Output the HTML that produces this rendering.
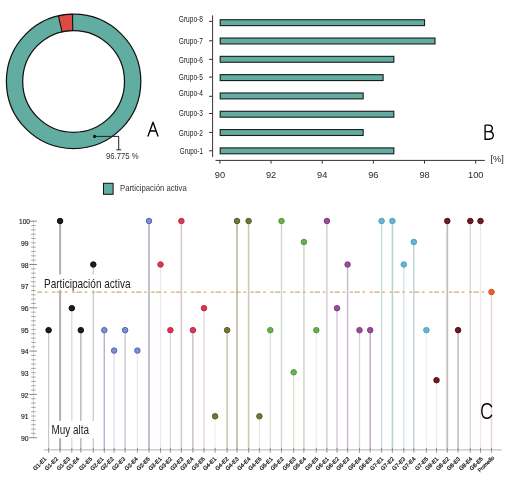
<!DOCTYPE html>
<html><head><meta charset="utf-8"><style>
html,body{margin:0;padding:0;background:#fff;}
svg{display:block;will-change:transform;}
text{font-family:"Liberation Sans", sans-serif;}
</style></head><body>
<svg width="524" height="481" viewBox="0 0 524 481">
<rect width="524" height="481" fill="#fff"/>
<circle cx="73.6" cy="81.4" r="59.05" fill="none" stroke="#62ada1" stroke-width="16.30"/>
<circle cx="73.6" cy="81.4" r="67.2" fill="none" stroke="#111" stroke-width="1.25"/>
<circle cx="73.6" cy="81.4" r="50.9" fill="none" stroke="#111" stroke-width="1.25"/>
<path d="M58.37,15.95 A67.2,67.2 0 0 1 72.50,14.21 L72.76,30.51 A50.9,50.9 0 0 0 62.06,31.82 Z" fill="#dc4a44" stroke="#111" stroke-width="1.1" stroke-linejoin="round"/>
<circle cx="94.6" cy="136.4" r="1.6" fill="#111"/>
<path d="M94.6,136.4 H118.7 V149.8 M116.3,149.8 H121.2" fill="none" stroke="#222" stroke-width="1"/>
<text x="106" y="158.7" font-size="9.5" fill="#333" textLength="32.6" lengthAdjust="spacingAndGlyphs">96.775 %</text>
<path d="M147.9,136.6 L153,122.2 L158.1,136.6 M150,131 H156" fill="none" stroke="#000" stroke-width="1.35" stroke-linejoin="round"/>
<rect x="103.5" y="183.3" width="9.6" height="11" fill="#62ada1" stroke="#111" stroke-width="1"/>
<text x="120" y="191.2" font-size="9.2" fill="#333" textLength="66.7" lengthAdjust="spacingAndGlyphs">Participación activa</text>
<line x1="212.6" y1="15.4" x2="212.6" y2="156.9" stroke="#333" stroke-width="1"/>
<line x1="209" y1="150.80" x2="212.6" y2="150.80" stroke="#333" stroke-width="1"/>
<rect x="220.2" y="147.90" width="173.64" height="5.9" fill="#62ada1" stroke="#1a1a1a" stroke-width="1.1"/>
<text x="179.80" y="153.8" font-size="8.4" fill="#222" textLength="23.1" lengthAdjust="spacingAndGlyphs">Grupo-1</text>
<line x1="209" y1="132.40" x2="212.6" y2="132.40" stroke="#333" stroke-width="1"/>
<rect x="220.2" y="129.59" width="142.95" height="5.9" fill="#62ada1" stroke="#1a1a1a" stroke-width="1.1"/>
<text x="178.80" y="135.7" font-size="8.4" fill="#222" textLength="24.1" lengthAdjust="spacingAndGlyphs">Grupo-2</text>
<line x1="209" y1="113.50" x2="212.6" y2="113.50" stroke="#333" stroke-width="1"/>
<rect x="220.2" y="111.28" width="173.64" height="5.9" fill="#62ada1" stroke="#1a1a1a" stroke-width="1.1"/>
<text x="178.80" y="115.9" font-size="8.4" fill="#222" textLength="24.1" lengthAdjust="spacingAndGlyphs">Grupo-3</text>
<line x1="209" y1="96.30" x2="212.6" y2="96.30" stroke="#333" stroke-width="1"/>
<rect x="220.2" y="92.97" width="142.95" height="5.9" fill="#62ada1" stroke="#1a1a1a" stroke-width="1.1"/>
<text x="178.80" y="96.1" font-size="8.4" fill="#222" textLength="24.1" lengthAdjust="spacingAndGlyphs">Grupo-4</text>
<line x1="209" y1="77.10" x2="212.6" y2="77.10" stroke="#333" stroke-width="1"/>
<rect x="220.2" y="74.66" width="162.90" height="5.9" fill="#62ada1" stroke="#1a1a1a" stroke-width="1.1"/>
<text x="178.80" y="80.2" font-size="8.4" fill="#222" textLength="24.1" lengthAdjust="spacingAndGlyphs">Grupo-5</text>
<line x1="209" y1="59.35" x2="212.6" y2="59.35" stroke="#333" stroke-width="1"/>
<rect x="220.2" y="56.35" width="173.64" height="5.9" fill="#62ada1" stroke="#1a1a1a" stroke-width="1.1"/>
<text x="178.80" y="62.5" font-size="8.4" fill="#222" textLength="24.1" lengthAdjust="spacingAndGlyphs">Grupo-6</text>
<line x1="209" y1="40.80" x2="212.6" y2="40.80" stroke="#333" stroke-width="1"/>
<rect x="220.2" y="38.04" width="214.83" height="5.9" fill="#62ada1" stroke="#1a1a1a" stroke-width="1.1"/>
<text x="178.80" y="43.7" font-size="8.4" fill="#222" textLength="24.1" lengthAdjust="spacingAndGlyphs">Grupo-7</text>
<line x1="209" y1="21.40" x2="212.6" y2="21.40" stroke="#333" stroke-width="1"/>
<rect x="220.2" y="19.73" width="204.34" height="5.9" fill="#62ada1" stroke="#1a1a1a" stroke-width="1.1"/>
<text x="178.80" y="22.2" font-size="8.4" fill="#222" textLength="24.1" lengthAdjust="spacingAndGlyphs">Grupo-8</text>
<line x1="215.5" y1="160.4" x2="484.8" y2="160.4" stroke="#333" stroke-width="1"/>
<line x1="219.90" y1="160.4" x2="219.90" y2="163.6" stroke="#333" stroke-width="1"/>
<text x="214.75" y="177.9" font-size="9.9" fill="#2a2a2a" textLength="10.3" lengthAdjust="spacingAndGlyphs">90</text>
<line x1="271.06" y1="160.4" x2="271.06" y2="163.6" stroke="#333" stroke-width="1"/>
<text x="265.91" y="177.9" font-size="9.9" fill="#2a2a2a" textLength="10.3" lengthAdjust="spacingAndGlyphs">92</text>
<line x1="322.22" y1="160.4" x2="322.22" y2="163.6" stroke="#333" stroke-width="1"/>
<text x="317.07" y="177.9" font-size="9.9" fill="#2a2a2a" textLength="10.3" lengthAdjust="spacingAndGlyphs">94</text>
<line x1="373.38" y1="160.4" x2="373.38" y2="163.6" stroke="#333" stroke-width="1"/>
<text x="368.23" y="177.9" font-size="9.9" fill="#2a2a2a" textLength="10.3" lengthAdjust="spacingAndGlyphs">96</text>
<line x1="424.54" y1="160.4" x2="424.54" y2="163.6" stroke="#333" stroke-width="1"/>
<text x="419.39" y="177.9" font-size="9.9" fill="#2a2a2a" textLength="10.3" lengthAdjust="spacingAndGlyphs">98</text>
<line x1="475.70" y1="160.4" x2="475.70" y2="163.6" stroke="#333" stroke-width="1"/>
<text x="468.00" y="177.9" font-size="9.9" fill="#2a2a2a" textLength="15.4" lengthAdjust="spacingAndGlyphs">100</text>
<text x="490.4" y="162.2" font-size="9" fill="#2a2a2a" textLength="13.4" lengthAdjust="spacingAndGlyphs">[%]</text>
<path d="M485.1,125.1 V139.2 H488.9 C491.7,139.2 493.3,137.8 493.3,135.3 C493.3,132.9 491.7,131.6 488.9,131.6 H485.1 M488.9,131.6 C491.1,131.6 492.3,130.4 492.3,128.3 C492.3,126.2 491.1,125.1 488.9,125.1 H485.1" fill="none" stroke="#000" stroke-width="1.35"/>
<line x1="33.5" y1="220.3" x2="33.5" y2="438.2" stroke="#d8d8d8" stroke-width="1"/>
<line x1="29.4" y1="437.70" x2="36.9" y2="437.70" stroke="#888" stroke-width="1"/>
<line x1="31.2" y1="433.37" x2="35.6" y2="433.37" stroke="#999" stroke-width="0.9"/>
<line x1="31.2" y1="429.04" x2="35.6" y2="429.04" stroke="#999" stroke-width="0.9"/>
<line x1="31.2" y1="424.71" x2="35.6" y2="424.71" stroke="#999" stroke-width="0.9"/>
<line x1="31.2" y1="420.38" x2="35.6" y2="420.38" stroke="#999" stroke-width="0.9"/>
<line x1="31.2" y1="416.05" x2="35.6" y2="416.05" stroke="#999" stroke-width="0.9"/>
<line x1="31.2" y1="411.72" x2="35.6" y2="411.72" stroke="#999" stroke-width="0.9"/>
<line x1="31.2" y1="407.39" x2="35.6" y2="407.39" stroke="#999" stroke-width="0.9"/>
<line x1="31.2" y1="403.06" x2="35.6" y2="403.06" stroke="#999" stroke-width="0.9"/>
<line x1="31.2" y1="398.73" x2="35.6" y2="398.73" stroke="#999" stroke-width="0.9"/>
<line x1="29.4" y1="394.40" x2="36.9" y2="394.40" stroke="#888" stroke-width="1"/>
<line x1="31.2" y1="390.07" x2="35.6" y2="390.07" stroke="#999" stroke-width="0.9"/>
<line x1="31.2" y1="385.74" x2="35.6" y2="385.74" stroke="#999" stroke-width="0.9"/>
<line x1="31.2" y1="381.41" x2="35.6" y2="381.41" stroke="#999" stroke-width="0.9"/>
<line x1="31.2" y1="377.08" x2="35.6" y2="377.08" stroke="#999" stroke-width="0.9"/>
<line x1="31.2" y1="372.75" x2="35.6" y2="372.75" stroke="#999" stroke-width="0.9"/>
<line x1="31.2" y1="368.42" x2="35.6" y2="368.42" stroke="#999" stroke-width="0.9"/>
<line x1="31.2" y1="364.09" x2="35.6" y2="364.09" stroke="#999" stroke-width="0.9"/>
<line x1="31.2" y1="359.76" x2="35.6" y2="359.76" stroke="#999" stroke-width="0.9"/>
<line x1="31.2" y1="355.43" x2="35.6" y2="355.43" stroke="#999" stroke-width="0.9"/>
<line x1="29.4" y1="351.10" x2="36.9" y2="351.10" stroke="#888" stroke-width="1"/>
<line x1="31.2" y1="346.77" x2="35.6" y2="346.77" stroke="#999" stroke-width="0.9"/>
<line x1="31.2" y1="342.44" x2="35.6" y2="342.44" stroke="#999" stroke-width="0.9"/>
<line x1="31.2" y1="338.11" x2="35.6" y2="338.11" stroke="#999" stroke-width="0.9"/>
<line x1="31.2" y1="333.78" x2="35.6" y2="333.78" stroke="#999" stroke-width="0.9"/>
<line x1="31.2" y1="329.45" x2="35.6" y2="329.45" stroke="#999" stroke-width="0.9"/>
<line x1="31.2" y1="325.12" x2="35.6" y2="325.12" stroke="#999" stroke-width="0.9"/>
<line x1="31.2" y1="320.79" x2="35.6" y2="320.79" stroke="#999" stroke-width="0.9"/>
<line x1="31.2" y1="316.46" x2="35.6" y2="316.46" stroke="#999" stroke-width="0.9"/>
<line x1="31.2" y1="312.13" x2="35.6" y2="312.13" stroke="#999" stroke-width="0.9"/>
<line x1="29.4" y1="307.80" x2="36.9" y2="307.80" stroke="#888" stroke-width="1"/>
<line x1="31.2" y1="303.47" x2="35.6" y2="303.47" stroke="#999" stroke-width="0.9"/>
<line x1="31.2" y1="299.14" x2="35.6" y2="299.14" stroke="#999" stroke-width="0.9"/>
<line x1="31.2" y1="294.81" x2="35.6" y2="294.81" stroke="#999" stroke-width="0.9"/>
<line x1="31.2" y1="290.48" x2="35.6" y2="290.48" stroke="#999" stroke-width="0.9"/>
<line x1="31.2" y1="286.15" x2="35.6" y2="286.15" stroke="#999" stroke-width="0.9"/>
<line x1="31.2" y1="281.82" x2="35.6" y2="281.82" stroke="#999" stroke-width="0.9"/>
<line x1="31.2" y1="277.49" x2="35.6" y2="277.49" stroke="#999" stroke-width="0.9"/>
<line x1="31.2" y1="273.16" x2="35.6" y2="273.16" stroke="#999" stroke-width="0.9"/>
<line x1="31.2" y1="268.83" x2="35.6" y2="268.83" stroke="#999" stroke-width="0.9"/>
<line x1="29.4" y1="264.50" x2="36.9" y2="264.50" stroke="#888" stroke-width="1"/>
<line x1="31.2" y1="260.17" x2="35.6" y2="260.17" stroke="#999" stroke-width="0.9"/>
<line x1="31.2" y1="255.84" x2="35.6" y2="255.84" stroke="#999" stroke-width="0.9"/>
<line x1="31.2" y1="251.51" x2="35.6" y2="251.51" stroke="#999" stroke-width="0.9"/>
<line x1="31.2" y1="247.18" x2="35.6" y2="247.18" stroke="#999" stroke-width="0.9"/>
<line x1="31.2" y1="242.85" x2="35.6" y2="242.85" stroke="#999" stroke-width="0.9"/>
<line x1="31.2" y1="238.52" x2="35.6" y2="238.52" stroke="#999" stroke-width="0.9"/>
<line x1="31.2" y1="234.19" x2="35.6" y2="234.19" stroke="#999" stroke-width="0.9"/>
<line x1="31.2" y1="229.86" x2="35.6" y2="229.86" stroke="#999" stroke-width="0.9"/>
<line x1="31.2" y1="225.53" x2="35.6" y2="225.53" stroke="#999" stroke-width="0.9"/>
<line x1="29.4" y1="221.20" x2="36.9" y2="221.20" stroke="#888" stroke-width="1"/>
<text x="21.00" y="440.90" font-size="7.4" fill="#222" stroke="#222" stroke-width="0.15" textLength="7.6" lengthAdjust="spacingAndGlyphs">90</text>
<text x="21.00" y="419.25" font-size="7.4" fill="#222" stroke="#222" stroke-width="0.15" textLength="7.6" lengthAdjust="spacingAndGlyphs">91</text>
<text x="21.00" y="397.60" font-size="7.4" fill="#222" stroke="#222" stroke-width="0.15" textLength="7.6" lengthAdjust="spacingAndGlyphs">92</text>
<text x="21.00" y="375.95" font-size="7.4" fill="#222" stroke="#222" stroke-width="0.15" textLength="7.6" lengthAdjust="spacingAndGlyphs">93</text>
<text x="21.00" y="354.30" font-size="7.4" fill="#222" stroke="#222" stroke-width="0.15" textLength="7.6" lengthAdjust="spacingAndGlyphs">94</text>
<text x="21.00" y="332.65" font-size="7.4" fill="#222" stroke="#222" stroke-width="0.15" textLength="7.6" lengthAdjust="spacingAndGlyphs">95</text>
<text x="21.00" y="311.00" font-size="7.4" fill="#222" stroke="#222" stroke-width="0.15" textLength="7.6" lengthAdjust="spacingAndGlyphs">96</text>
<text x="21.00" y="289.35" font-size="7.4" fill="#222" stroke="#222" stroke-width="0.15" textLength="7.6" lengthAdjust="spacingAndGlyphs">97</text>
<text x="21.00" y="267.70" font-size="7.4" fill="#222" stroke="#222" stroke-width="0.15" textLength="7.6" lengthAdjust="spacingAndGlyphs">98</text>
<text x="21.00" y="246.05" font-size="7.4" fill="#222" stroke="#222" stroke-width="0.15" textLength="7.6" lengthAdjust="spacingAndGlyphs">99</text>
<text x="19.10" y="224.40" font-size="7.4" fill="#222" stroke="#222" stroke-width="0.15" textLength="10.9" lengthAdjust="spacingAndGlyphs">100</text>
<line x1="48.6" y1="330.15" x2="48.6" y2="450.1" stroke="#c9c9c9" stroke-width="1.2"/>
<line x1="60.1" y1="221.00" x2="60.1" y2="450.1" stroke="#b0b0b0" stroke-width="2.0"/>
<line x1="71.8" y1="308.20" x2="71.8" y2="450.1" stroke="#d7d7d7" stroke-width="1.2"/>
<line x1="80.8" y1="330.15" x2="80.8" y2="450.1" stroke="#bebebe" stroke-width="1.6"/>
<line x1="93.3" y1="264.50" x2="93.3" y2="450.1" stroke="#cbcbcb" stroke-width="1.3"/>
<line x1="104.3" y1="330.15" x2="104.3" y2="450.1" stroke="#b1b7c8" stroke-width="1.4"/>
<line x1="114.1" y1="350.60" x2="114.1" y2="450.1" stroke="#dadde5" stroke-width="1.2"/>
<line x1="125.1" y1="330.15" x2="125.1" y2="450.1" stroke="#c0c4d1" stroke-width="1.3"/>
<line x1="137.4" y1="350.60" x2="137.4" y2="450.1" stroke="#e7e9ee" stroke-width="1.2"/>
<line x1="149.0" y1="221.00" x2="149.0" y2="450.1" stroke="#babfcd" stroke-width="1.9"/>
<line x1="160.5" y1="264.50" x2="160.5" y2="450.1" stroke="#efe6ea" stroke-width="1.2"/>
<line x1="170.4" y1="330.15" x2="170.4" y2="450.1" stroke="#e1d4da" stroke-width="1.3"/>
<line x1="181.4" y1="221.00" x2="181.4" y2="450.1" stroke="#d8c7cf" stroke-width="1.6"/>
<line x1="192.9" y1="330.15" x2="192.9" y2="450.1" stroke="#d1bec8" stroke-width="1.5"/>
<line x1="204.0" y1="308.20" x2="204.0" y2="450.1" stroke="#e3d5dc" stroke-width="1.3"/>
<line x1="215.1" y1="416.30" x2="215.1" y2="450.1" stroke="#f3f2e9" stroke-width="1.2"/>
<line x1="227.1" y1="330.15" x2="227.1" y2="450.1" stroke="#cacab5" stroke-width="1.6"/>
<line x1="237.0" y1="221.00" x2="237.0" y2="450.1" stroke="#c7c7b2" stroke-width="2.0"/>
<line x1="248.6" y1="221.00" x2="248.6" y2="450.1" stroke="#cacab9" stroke-width="1.6"/>
<line x1="259.4" y1="416.30" x2="259.4" y2="450.1" stroke="#ecebe1" stroke-width="1.2"/>
<line x1="270.3" y1="330.15" x2="270.3" y2="450.1" stroke="#d9e2d4" stroke-width="1.3"/>
<line x1="281.5" y1="221.00" x2="281.5" y2="450.1" stroke="#ccdac7" stroke-width="1.4"/>
<line x1="293.7" y1="372.30" x2="293.7" y2="450.1" stroke="#dbe5d7" stroke-width="1.3"/>
<line x1="303.9" y1="242.00" x2="303.9" y2="450.1" stroke="#ccdac7" stroke-width="1.5"/>
<line x1="316.3" y1="330.15" x2="316.3" y2="450.1" stroke="#eaefe7" stroke-width="1.2"/>
<line x1="326.9" y1="221.00" x2="326.9" y2="450.1" stroke="#d8ccdc" stroke-width="1.5"/>
<line x1="337.0" y1="308.20" x2="337.0" y2="450.1" stroke="#d5c7da" stroke-width="1.4"/>
<line x1="347.6" y1="264.50" x2="347.6" y2="450.1" stroke="#cbbdd1" stroke-width="1.5"/>
<line x1="359.5" y1="330.15" x2="359.5" y2="450.1" stroke="#dbd0e0" stroke-width="1.3"/>
<line x1="370.2" y1="330.15" x2="370.2" y2="450.1" stroke="#c0b2c9" stroke-width="1.6"/>
<line x1="381.6" y1="221.00" x2="381.6" y2="450.1" stroke="#cadde2" stroke-width="1.5"/>
<line x1="392.4" y1="221.00" x2="392.4" y2="450.1" stroke="#bad1d7" stroke-width="1.6"/>
<line x1="403.8" y1="264.50" x2="403.8" y2="450.1" stroke="#d5e4e8" stroke-width="1.3"/>
<line x1="413.8" y1="242.00" x2="413.8" y2="450.1" stroke="#c5d8dd" stroke-width="1.5"/>
<line x1="426.4" y1="330.15" x2="426.4" y2="450.1" stroke="#e9f0f2" stroke-width="1.2"/>
<line x1="436.5" y1="380.20" x2="436.5" y2="450.1" stroke="#efeaea" stroke-width="1.2"/>
<line x1="447.3" y1="221.00" x2="447.3" y2="450.1" stroke="#c7bcbc" stroke-width="1.8"/>
<line x1="458.1" y1="330.15" x2="458.1" y2="450.1" stroke="#cabebe" stroke-width="1.6"/>
<line x1="470.3" y1="221.00" x2="470.3" y2="450.1" stroke="#ded7d7" stroke-width="1.4"/>
<line x1="480.5" y1="221.00" x2="480.5" y2="450.1" stroke="#ece8e8" stroke-width="1.2"/>
<line x1="491.5" y1="292.00" x2="491.5" y2="450.1" stroke="#e6d6cf" stroke-width="1.5"/>
<line x1="43.7" y1="449.9" x2="501.8" y2="449.9" stroke="#c2c2c2" stroke-width="1.4"/>
<line x1="48.6" y1="447.8" x2="48.6" y2="452.6" stroke="#8e8e8e" stroke-width="1"/>
<line x1="60.1" y1="447.8" x2="60.1" y2="452.6" stroke="#8e8e8e" stroke-width="1"/>
<line x1="71.8" y1="447.8" x2="71.8" y2="452.6" stroke="#8e8e8e" stroke-width="1"/>
<line x1="80.8" y1="447.8" x2="80.8" y2="452.6" stroke="#8e8e8e" stroke-width="1"/>
<line x1="93.3" y1="447.8" x2="93.3" y2="452.6" stroke="#8e8e8e" stroke-width="1"/>
<line x1="104.3" y1="447.8" x2="104.3" y2="452.6" stroke="#8e8e8e" stroke-width="1"/>
<line x1="114.1" y1="447.8" x2="114.1" y2="452.6" stroke="#8e8e8e" stroke-width="1"/>
<line x1="125.1" y1="447.8" x2="125.1" y2="452.6" stroke="#8e8e8e" stroke-width="1"/>
<line x1="137.4" y1="447.8" x2="137.4" y2="452.6" stroke="#8e8e8e" stroke-width="1"/>
<line x1="149.0" y1="447.8" x2="149.0" y2="452.6" stroke="#8e8e8e" stroke-width="1"/>
<line x1="160.5" y1="447.8" x2="160.5" y2="452.6" stroke="#8e8e8e" stroke-width="1"/>
<line x1="170.4" y1="447.8" x2="170.4" y2="452.6" stroke="#8e8e8e" stroke-width="1"/>
<line x1="181.4" y1="447.8" x2="181.4" y2="452.6" stroke="#8e8e8e" stroke-width="1"/>
<line x1="192.9" y1="447.8" x2="192.9" y2="452.6" stroke="#8e8e8e" stroke-width="1"/>
<line x1="204.0" y1="447.8" x2="204.0" y2="452.6" stroke="#8e8e8e" stroke-width="1"/>
<line x1="215.1" y1="447.8" x2="215.1" y2="452.6" stroke="#8e8e8e" stroke-width="1"/>
<line x1="227.1" y1="447.8" x2="227.1" y2="452.6" stroke="#8e8e8e" stroke-width="1"/>
<line x1="237.0" y1="447.8" x2="237.0" y2="452.6" stroke="#8e8e8e" stroke-width="1"/>
<line x1="248.6" y1="447.8" x2="248.6" y2="452.6" stroke="#8e8e8e" stroke-width="1"/>
<line x1="259.4" y1="447.8" x2="259.4" y2="452.6" stroke="#8e8e8e" stroke-width="1"/>
<line x1="270.3" y1="447.8" x2="270.3" y2="452.6" stroke="#8e8e8e" stroke-width="1"/>
<line x1="281.5" y1="447.8" x2="281.5" y2="452.6" stroke="#8e8e8e" stroke-width="1"/>
<line x1="293.7" y1="447.8" x2="293.7" y2="452.6" stroke="#8e8e8e" stroke-width="1"/>
<line x1="303.9" y1="447.8" x2="303.9" y2="452.6" stroke="#8e8e8e" stroke-width="1"/>
<line x1="316.3" y1="447.8" x2="316.3" y2="452.6" stroke="#8e8e8e" stroke-width="1"/>
<line x1="326.9" y1="447.8" x2="326.9" y2="452.6" stroke="#8e8e8e" stroke-width="1"/>
<line x1="337.0" y1="447.8" x2="337.0" y2="452.6" stroke="#8e8e8e" stroke-width="1"/>
<line x1="347.6" y1="447.8" x2="347.6" y2="452.6" stroke="#8e8e8e" stroke-width="1"/>
<line x1="359.5" y1="447.8" x2="359.5" y2="452.6" stroke="#8e8e8e" stroke-width="1"/>
<line x1="370.2" y1="447.8" x2="370.2" y2="452.6" stroke="#8e8e8e" stroke-width="1"/>
<line x1="381.6" y1="447.8" x2="381.6" y2="452.6" stroke="#8e8e8e" stroke-width="1"/>
<line x1="392.4" y1="447.8" x2="392.4" y2="452.6" stroke="#8e8e8e" stroke-width="1"/>
<line x1="403.8" y1="447.8" x2="403.8" y2="452.6" stroke="#8e8e8e" stroke-width="1"/>
<line x1="413.8" y1="447.8" x2="413.8" y2="452.6" stroke="#8e8e8e" stroke-width="1"/>
<line x1="426.4" y1="447.8" x2="426.4" y2="452.6" stroke="#8e8e8e" stroke-width="1"/>
<line x1="436.5" y1="447.8" x2="436.5" y2="452.6" stroke="#8e8e8e" stroke-width="1"/>
<line x1="447.3" y1="447.8" x2="447.3" y2="452.6" stroke="#8e8e8e" stroke-width="1"/>
<line x1="458.1" y1="447.8" x2="458.1" y2="452.6" stroke="#8e8e8e" stroke-width="1"/>
<line x1="470.3" y1="447.8" x2="470.3" y2="452.6" stroke="#8e8e8e" stroke-width="1"/>
<line x1="480.5" y1="447.8" x2="480.5" y2="452.6" stroke="#8e8e8e" stroke-width="1"/>
<line x1="491.5" y1="447.8" x2="491.5" y2="452.6" stroke="#8e8e8e" stroke-width="1"/>
<line x1="37.2" y1="292.1" x2="488" y2="292.1" stroke="#cdb073" stroke-width="1.3" stroke-dasharray="3.3 1.4 5.3 2.7 2.7 4.45" stroke-dashoffset="5.05"/>
<rect x="38.5" y="274.5" width="94" height="15.6" fill="#fff"/>
<text x="44" y="287.9" font-size="11.9" fill="#222" textLength="86.5" lengthAdjust="spacingAndGlyphs">Participación activa</text>
<rect x="50.2" y="420.9" width="46" height="17.2" fill="#fff"/>
<text x="51.5" y="433.6" font-size="12" fill="#222" textLength="37.5" lengthAdjust="spacingAndGlyphs">Muy alta</text>
<circle cx="48.6" cy="330.15" r="2.75" fill="#1c1c26" stroke="#0c0c14" stroke-width="1"/>
<circle cx="60.1" cy="221.00" r="2.75" fill="#1c1c26" stroke="#0c0c14" stroke-width="1"/>
<circle cx="71.8" cy="308.20" r="2.75" fill="#1c1c26" stroke="#0c0c14" stroke-width="1"/>
<circle cx="80.8" cy="330.15" r="2.75" fill="#1c1c26" stroke="#0c0c14" stroke-width="1"/>
<circle cx="93.3" cy="264.50" r="2.75" fill="#1c1c26" stroke="#0c0c14" stroke-width="1"/>
<circle cx="104.3" cy="330.15" r="2.75" fill="#7f90cf" stroke="#5262b0" stroke-width="1"/>
<circle cx="114.1" cy="350.60" r="2.75" fill="#7f90cf" stroke="#5262b0" stroke-width="1"/>
<circle cx="125.1" cy="330.15" r="2.75" fill="#7f90cf" stroke="#5262b0" stroke-width="1"/>
<circle cx="137.4" cy="350.60" r="2.75" fill="#7f90cf" stroke="#5262b0" stroke-width="1"/>
<circle cx="149.0" cy="221.00" r="2.75" fill="#7f90cf" stroke="#5262b0" stroke-width="1"/>
<circle cx="160.5" cy="264.50" r="2.75" fill="#dc3550" stroke="#c02848" stroke-width="1"/>
<circle cx="170.4" cy="330.15" r="2.75" fill="#dc3550" stroke="#c02848" stroke-width="1"/>
<circle cx="181.4" cy="221.00" r="2.75" fill="#dc3550" stroke="#c02848" stroke-width="1"/>
<circle cx="192.9" cy="330.15" r="2.75" fill="#dc3550" stroke="#c02848" stroke-width="1"/>
<circle cx="204.0" cy="308.20" r="2.75" fill="#dc3550" stroke="#c02848" stroke-width="1"/>
<circle cx="215.1" cy="416.30" r="2.75" fill="#767632" stroke="#5a5a20" stroke-width="1"/>
<circle cx="227.1" cy="330.15" r="2.75" fill="#767632" stroke="#5a5a20" stroke-width="1"/>
<circle cx="237.0" cy="221.00" r="2.75" fill="#767632" stroke="#5a5a20" stroke-width="1"/>
<circle cx="248.6" cy="221.00" r="2.75" fill="#767632" stroke="#5a5a20" stroke-width="1"/>
<circle cx="259.4" cy="416.30" r="2.75" fill="#767632" stroke="#5a5a20" stroke-width="1"/>
<circle cx="270.3" cy="330.15" r="2.75" fill="#68b050" stroke="#4e9a3c" stroke-width="1"/>
<circle cx="281.5" cy="221.00" r="2.75" fill="#68b050" stroke="#4e9a3c" stroke-width="1"/>
<circle cx="293.7" cy="372.30" r="2.75" fill="#68b050" stroke="#4e9a3c" stroke-width="1"/>
<circle cx="303.9" cy="242.00" r="2.75" fill="#68b050" stroke="#4e9a3c" stroke-width="1"/>
<circle cx="316.3" cy="330.15" r="2.75" fill="#68b050" stroke="#4e9a3c" stroke-width="1"/>
<circle cx="326.9" cy="221.00" r="2.75" fill="#9c4c9c" stroke="#803880" stroke-width="1"/>
<circle cx="337.0" cy="308.20" r="2.75" fill="#9c4c9c" stroke="#803880" stroke-width="1"/>
<circle cx="347.6" cy="264.50" r="2.75" fill="#9c4c9c" stroke="#803880" stroke-width="1"/>
<circle cx="359.5" cy="330.15" r="2.75" fill="#9c4c9c" stroke="#803880" stroke-width="1"/>
<circle cx="370.2" cy="330.15" r="2.75" fill="#9c4c9c" stroke="#803880" stroke-width="1"/>
<circle cx="381.6" cy="221.00" r="2.75" fill="#62b8d0" stroke="#4aa0c0" stroke-width="1"/>
<circle cx="392.4" cy="221.00" r="2.75" fill="#62b8d0" stroke="#4aa0c0" stroke-width="1"/>
<circle cx="403.8" cy="264.50" r="2.75" fill="#62b8d0" stroke="#4aa0c0" stroke-width="1"/>
<circle cx="413.8" cy="242.00" r="2.75" fill="#62b8d0" stroke="#4aa0c0" stroke-width="1"/>
<circle cx="426.4" cy="330.15" r="2.75" fill="#62b8d0" stroke="#4aa0c0" stroke-width="1"/>
<circle cx="436.5" cy="380.20" r="2.75" fill="#6e1a20" stroke="#501015" stroke-width="1"/>
<circle cx="447.3" cy="221.00" r="2.75" fill="#6e1a20" stroke="#501015" stroke-width="1"/>
<circle cx="458.1" cy="330.15" r="2.75" fill="#6e1a20" stroke="#501015" stroke-width="1"/>
<circle cx="470.3" cy="221.00" r="2.75" fill="#6e1a20" stroke="#501015" stroke-width="1"/>
<circle cx="480.5" cy="221.00" r="2.75" fill="#6e1a20" stroke="#501015" stroke-width="1"/>
<circle cx="491.5" cy="292.00" r="2.75" fill="#e8602a" stroke="#d04820" stroke-width="1"/>
<path d="M491.8,407.2 C490.9,404.9 489.2,403.8 486.9,403.8 C483.6,403.8 481.8,406.6 481.8,411 C481.8,415.5 483.6,418.2 486.9,418.2 C489.3,418.2 490.9,417 491.8,414.7" fill="none" stroke="#000" stroke-width="1.4"/>
<text transform="translate(46.80,459.3) rotate(-45)" font-size="5.6" fill="#111" stroke="#111" stroke-width="0.22" text-anchor="end">G1-E1</text>
<text transform="translate(58.40,459.3) rotate(-45)" font-size="5.6" fill="#111" stroke="#111" stroke-width="0.22" text-anchor="end">G1-E2</text>
<text transform="translate(70.46,459.3) rotate(-45)" font-size="5.6" fill="#111" stroke="#111" stroke-width="0.22" text-anchor="end">G1-E3</text>
<text transform="translate(79.82,459.3) rotate(-45)" font-size="5.6" fill="#111" stroke="#111" stroke-width="0.22" text-anchor="end">G1-E4</text>
<text transform="translate(92.68,459.3) rotate(-45)" font-size="5.6" fill="#111" stroke="#111" stroke-width="0.22" text-anchor="end">G1-E5</text>
<text transform="translate(104.04,459.3) rotate(-45)" font-size="5.6" fill="#111" stroke="#111" stroke-width="0.22" text-anchor="end">G2-E1</text>
<text transform="translate(114.20,459.3) rotate(-45)" font-size="5.6" fill="#111" stroke="#111" stroke-width="0.22" text-anchor="end">G2-E2</text>
<text transform="translate(125.60,459.3) rotate(-45)" font-size="5.6" fill="#111" stroke="#111" stroke-width="0.22" text-anchor="end">G2-E3</text>
<text transform="translate(138.30,459.3) rotate(-45)" font-size="5.6" fill="#111" stroke="#111" stroke-width="0.22" text-anchor="end">G2-E4</text>
<text transform="translate(150.30,459.3) rotate(-45)" font-size="5.6" fill="#111" stroke="#111" stroke-width="0.22" text-anchor="end">G2-E5</text>
<text transform="translate(162.20,459.3) rotate(-45)" font-size="5.6" fill="#111" stroke="#111" stroke-width="0.22" text-anchor="end">G3-E1</text>
<text transform="translate(172.50,459.3) rotate(-45)" font-size="5.6" fill="#111" stroke="#111" stroke-width="0.22" text-anchor="end">G3-E2</text>
<text transform="translate(183.90,459.3) rotate(-45)" font-size="5.6" fill="#111" stroke="#111" stroke-width="0.22" text-anchor="end">G3-E3</text>
<text transform="translate(193.90,459.3) rotate(-45)" font-size="5.6" fill="#111" stroke="#111" stroke-width="0.22" text-anchor="end">G3-E4</text>
<text transform="translate(205.27,459.3) rotate(-45)" font-size="5.6" fill="#111" stroke="#111" stroke-width="0.22" text-anchor="end">G3-E5</text>
<text transform="translate(216.64,459.3) rotate(-45)" font-size="5.6" fill="#111" stroke="#111" stroke-width="0.22" text-anchor="end">G4-E1</text>
<text transform="translate(228.91,459.3) rotate(-45)" font-size="5.6" fill="#111" stroke="#111" stroke-width="0.22" text-anchor="end">G4-E2</text>
<text transform="translate(239.09,459.3) rotate(-45)" font-size="5.6" fill="#111" stroke="#111" stroke-width="0.22" text-anchor="end">G4-E3</text>
<text transform="translate(250.96,459.3) rotate(-45)" font-size="5.6" fill="#111" stroke="#111" stroke-width="0.22" text-anchor="end">G4-E4</text>
<text transform="translate(262.03,459.3) rotate(-45)" font-size="5.6" fill="#111" stroke="#111" stroke-width="0.22" text-anchor="end">G4-E5</text>
<text transform="translate(273.20,459.3) rotate(-45)" font-size="5.6" fill="#111" stroke="#111" stroke-width="0.22" text-anchor="end">G5-E1</text>
<text transform="translate(284.10,459.3) rotate(-45)" font-size="5.6" fill="#111" stroke="#111" stroke-width="0.22" text-anchor="end">G5-E2</text>
<text transform="translate(296.25,459.3) rotate(-45)" font-size="5.6" fill="#111" stroke="#111" stroke-width="0.22" text-anchor="end">G5-E3</text>
<text transform="translate(306.40,459.3) rotate(-45)" font-size="5.6" fill="#111" stroke="#111" stroke-width="0.22" text-anchor="end">G5-E4</text>
<text transform="translate(318.75,459.3) rotate(-45)" font-size="5.6" fill="#111" stroke="#111" stroke-width="0.22" text-anchor="end">G5-E5</text>
<text transform="translate(329.30,459.3) rotate(-45)" font-size="5.6" fill="#111" stroke="#111" stroke-width="0.22" text-anchor="end">G6-E1</text>
<text transform="translate(339.35,459.3) rotate(-45)" font-size="5.6" fill="#111" stroke="#111" stroke-width="0.22" text-anchor="end">G6-E2</text>
<text transform="translate(349.90,459.3) rotate(-45)" font-size="5.6" fill="#111" stroke="#111" stroke-width="0.22" text-anchor="end">G6-E3</text>
<text transform="translate(361.80,459.3) rotate(-45)" font-size="5.6" fill="#111" stroke="#111" stroke-width="0.22" text-anchor="end">G6-E4</text>
<text transform="translate(372.43,459.3) rotate(-45)" font-size="5.6" fill="#111" stroke="#111" stroke-width="0.22" text-anchor="end">G6-E5</text>
<text transform="translate(383.75,459.3) rotate(-45)" font-size="5.6" fill="#111" stroke="#111" stroke-width="0.22" text-anchor="end">G7-E1</text>
<text transform="translate(394.47,459.3) rotate(-45)" font-size="5.6" fill="#111" stroke="#111" stroke-width="0.22" text-anchor="end">G7-E2</text>
<text transform="translate(405.80,459.3) rotate(-45)" font-size="5.6" fill="#111" stroke="#111" stroke-width="0.22" text-anchor="end">G7-E3</text>
<text transform="translate(415.88,459.3) rotate(-45)" font-size="5.6" fill="#111" stroke="#111" stroke-width="0.22" text-anchor="end">G7-E4</text>
<text transform="translate(428.57,459.3) rotate(-45)" font-size="5.6" fill="#111" stroke="#111" stroke-width="0.22" text-anchor="end">G7-E5</text>
<text transform="translate(438.75,459.3) rotate(-45)" font-size="5.6" fill="#111" stroke="#111" stroke-width="0.22" text-anchor="end">G8-E1</text>
<text transform="translate(449.63,459.3) rotate(-45)" font-size="5.6" fill="#111" stroke="#111" stroke-width="0.22" text-anchor="end">G8-E2</text>
<text transform="translate(460.52,459.3) rotate(-45)" font-size="5.6" fill="#111" stroke="#111" stroke-width="0.22" text-anchor="end">G8-E3</text>
<text transform="translate(472.80,459.3) rotate(-45)" font-size="5.6" fill="#111" stroke="#111" stroke-width="0.22" text-anchor="end">G8-E4</text>
<text transform="translate(483.30,459.3) rotate(-45)" font-size="5.6" fill="#111" stroke="#111" stroke-width="0.22" text-anchor="end">G8-E5</text>
<text transform="translate(494.60,458.0) rotate(-45)" font-size="5.4" fill="#111" stroke="#111" stroke-width="0.22" text-anchor="end" textLength="20.5" lengthAdjust="spacingAndGlyphs">Promedio</text>
</svg>
</body></html>
